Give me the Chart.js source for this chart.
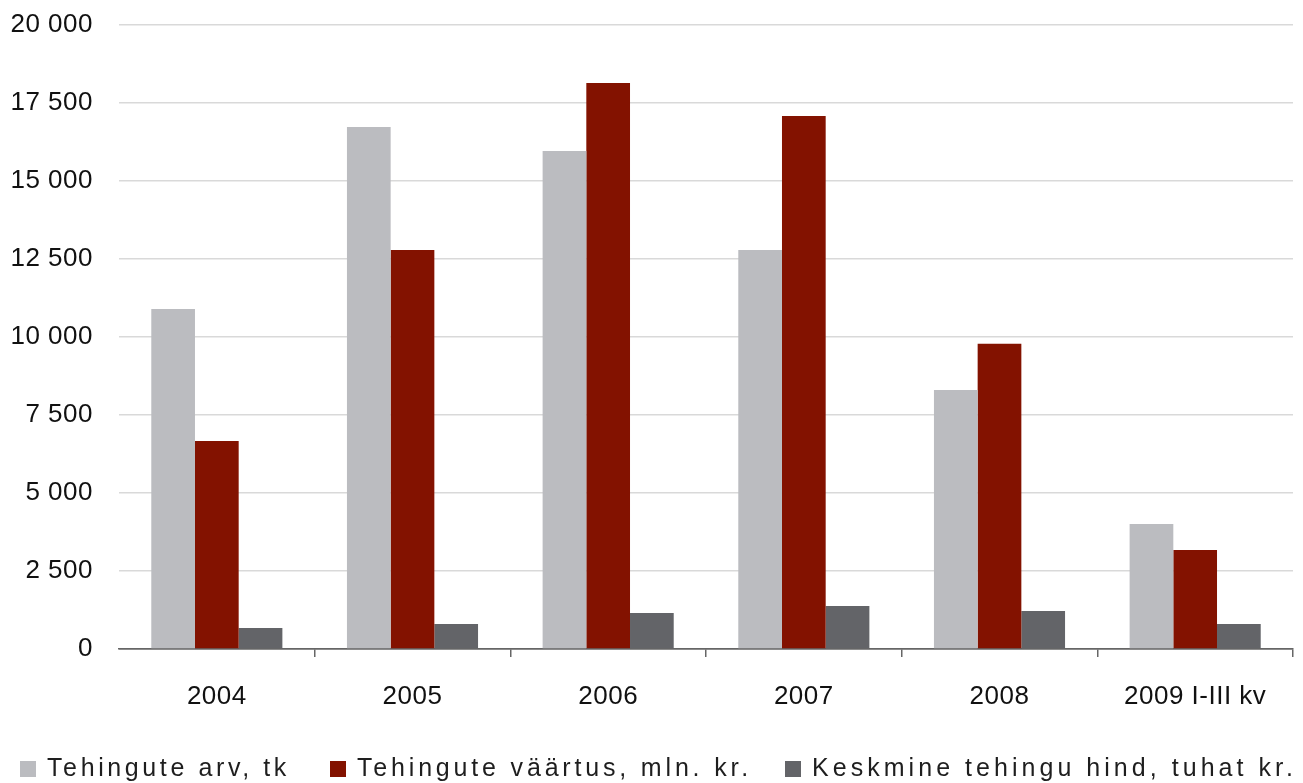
<!DOCTYPE html>
<html lang="et">
<head>
<meta charset="utf-8">
<title>Tehingud 2004–2009</title>
<script src="https://cdn.jsdelivr.net/npm/chart.js@4.4.1/dist/chart.umd.min.js"></script>
<style>
  html, body { margin: 0; padding: 0; background: #fff; }
  #wrap { position: relative; width: 1303px; height: 783px; overflow: hidden; }
  #chart { position: absolute; left: 0; top: 0; }
  #legend { position: absolute; left: 0; top: 752px; width: 1303px; height: 31px;
            font-family: "Liberation Sans", Arial, sans-serif;
            font-size: 25px; color: #1e1e1e; }
  .item { position: absolute; top: 0; white-space: nowrap; line-height: 31px; }
  .sw { display: inline-block; width: 16px; height: 16px; margin-right: 11px; vertical-align: -1px; }
  .txt { letter-spacing: 0; }
</style>
</head>
<body>
<div id="wrap">
  <canvas id="chart" width="1303" height="783"></canvas>
  <div id="legend"></div>
</div>
<script>
// Categories and series
const years = ["2004", "2005", "2006", "2007", "2008", "2009 I-III kv"];
const seriesNames = ["Tehingute arv, tk", "Tehingute väärtus, mln. kr.", "Keskmine tehingu hind, tuhat kr."];
const tehinguteArv = [10900, 16730, 15960, 12790, 8300, 4010];
const tehinguteVaartus = [6670, 12790, 18140, 17080, 9780, 3170];
const keskmineHind = [670, 800, 1150, 1380, 1220, 800];
const yTicks = [0, 2500, 5000, 7500, 10000, 12500, 15000, 17500, 20000];

const colors = ["#bbbcc0", "#831200", "#636468"];
// legend item start and text end (px)
const legendLeft = [20, 330, 785];
const legendRight = [290, 752, 1297];

// thousands separated by a space: 20 000
const fmt = v => String(v).replace(/\B(?=(\d{3})+(?!\d))/g, " ");

// slight letter spacing for canvas text
const spacing = {
  id: "spacing",
  beforeLayout(chart) { chart.ctx.letterSpacing = "0.5px"; },
  beforeDraw(chart) { chart.ctx.letterSpacing = "0.5px"; }
};

const tickFont = { family: "'Liberation Sans', Arial, sans-serif", size: 26 };

const ctx = document.getElementById("chart").getContext("2d");
new Chart(ctx, {
  type: "bar",
  data: {
    labels: years,
    datasets: [
      { label: seriesNames[0], data: tehinguteArv, backgroundColor: colors[0] },
      { label: seriesNames[1], data: tehinguteVaartus, backgroundColor: colors[1] },
      { label: seriesNames[2], data: keskmineHind, backgroundColor: colors[2] }
    ]
  },
  options: {
    responsive: false,
    animation: false,
    devicePixelRatio: 1,
    layout: { padding: { top: 25, right: 10, bottom: 70, left: 0 } },
    datasets: { bar: { categoryPercentage: 0.67, barPercentage: 1.0 } },
    plugins: { legend: { display: false }, tooltip: { enabled: false } },
    scales: {
      x: {
        offset: true,
        grid: {
          offset: true,
          drawOnChartArea: false,
          drawTicks: true,
          tickLength: 8,
          lineWidth: 1.5,
          color: c => (c.index === 0 ? "rgba(0,0,0,0)" : "#666")
        },
        border: { display: true, color: "#666", width: 1.5 },
        ticks: { color: "#111", padding: 24, maxRotation: 0, font: tickFont },
        afterFit: s => { s.height = 64; s.paddingLeft = 0; s.paddingRight = 0; }
      },
      y: {
        min: 0,
        max: 20000,
        afterBuildTicks: s => { s.ticks = yTicks.map(v => ({ value: v })); },
        grid: {
          drawTicks: false,
          lineWidth: 1.5,
          color: c => (c.tick && c.tick.value === 0 ? "#666" : "#d9d9d9")
        },
        border: { display: false },
        ticks: { color: "#111", padding: 26, callback: v => fmt(v), font: tickFont },
        afterFit: s => { s.width = 119; s.paddingTop = 0; s.paddingBottom = 0; }
      }
    }
  },
  plugins: [spacing]
});

// legend row below the chart, text spread to its span
const legend = document.getElementById("legend");
seriesNames.forEach((name, i) => {
  const item = document.createElement("div");
  item.className = "item";
  item.style.left = legendLeft[i] + "px";
  const sw = document.createElement("span");
  sw.className = "sw";
  sw.style.background = colors[i];
  const txt = document.createElement("span");
  txt.className = "txt";
  txt.textContent = name;
  item.appendChild(sw);
  item.appendChild(txt);
  legend.appendChild(item);
  const start = txt.getBoundingClientRect().left;
  const natural = txt.getBoundingClientRect().width;
  const target = legendRight[i] - start;
  txt.style.letterSpacing = ((target - natural) / name.length) + "px";
});
</script>
</body>
</html>
